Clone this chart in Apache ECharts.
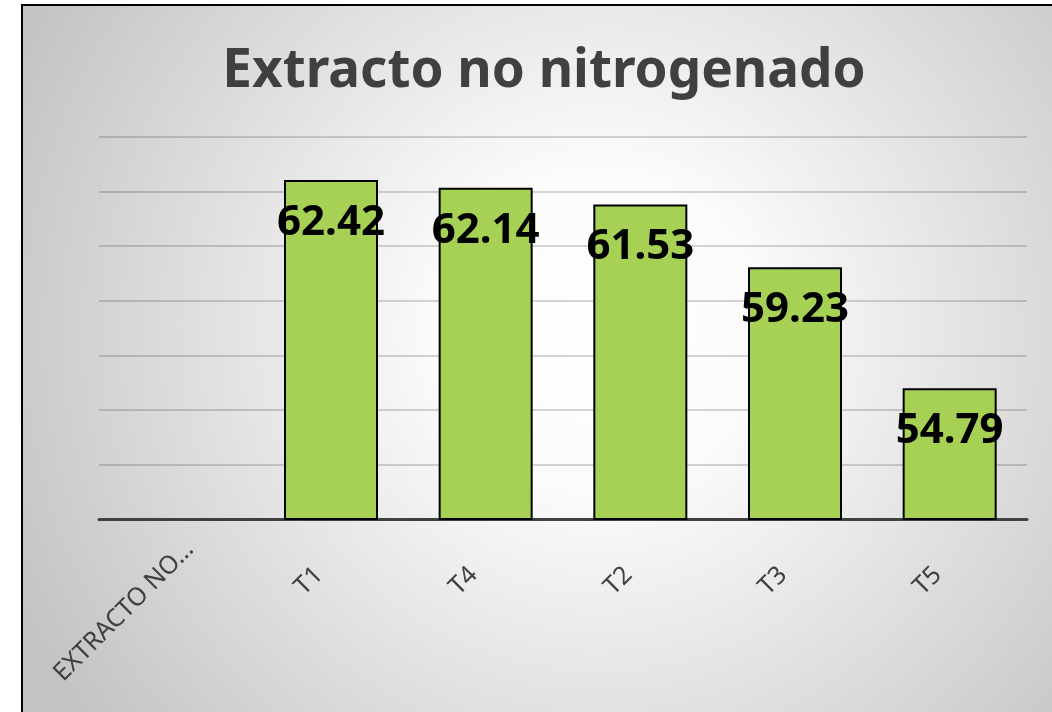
<!DOCTYPE html>
<html>
<head>
<meta charset="utf-8">
<script src="https://cdn.jsdelivr.net/npm/echarts@6/dist/echarts.min.js"></script>
<style>
html,body{margin:0;padding:0;background:#fff;}
#chart{width:1052px;height:712px;}
</style>
</head>
<body>
<div id="chart"></div>
<script>
const titleText = 'Extracto no nitrogenado';
const categories = ['EXTRACTO NO…', 'T1', 'T4', 'T2', 'T3', 'T5'];
const values = [null, 62.42, 62.14, 61.53, 59.23, 54.79];
const yMin = 50, yMax = 64, yStep = 2;

const categoryItems = categories.map((c, i) =>
  i === 0 ? {value: c, textStyle: {padding: [0, -19, 0, 0]}} : {value: c}
);

const chart = echarts.init(document.getElementById('chart'));
chart.setOption({
  animation: false,
  backgroundColor: '#ffffff',
  graphic: [{
    type: 'rect',
    z: -100,
    silent: true,
    shape: {x: 22, y: 5, width: 1060, height: 740},
    style: {
      fill: {
        type: 'radial', x: 600, y: 330, r: 640, global: true,
        colorStops: [{offset: 0, color: '#ffffff'}, {offset: 0.25, color: '#fbfbfb'}, {offset: 1, color: '#c4c4c4'}]
      },
      stroke: '#000000',
      lineWidth: 2
    }
  }],
  title: {
    text: titleText,
    left: 539,
    textAlign: 'center',
    top: 40,
    textStyle: {fontFamily: 'Noto Sans', fontWeight: 'bold', fontSize: 53, color: '#404040'}
  },
  grid: {left: 99, right: 25, top: 137, bottom: 193, containLabel: false, outerBoundsMode: 'none'},
  xAxis: {
    type: 'category',
    data: categoryItems,
    axisLine: {lineStyle: {color: '#404040', width: 3}},
    axisTick: {show: false},
    axisLabel: {rotate: 45, margin: 40, interval: 0, padding: [0, 17, 0, 0], fontFamily: 'Noto Sans', fontSize: 25, color: '#404040'}
  },
  yAxis: {
    type: 'value',
    min: yMin, max: yMax, interval: yStep,
    axisLabel: {show: false},
    axisLine: {show: false},
    axisTick: {show: false},
    splitLine: {lineStyle: {color: 'rgba(0,0,0,0.16)', width: 2}}
  },
  series: [{
    type: 'bar',
    data: values,
    barWidth: 94,
    itemStyle: {color: '#a6d155', borderColor: '#000000', borderWidth: 2},
    label: {
      show: true,
      position: ['50%', 43],
      align: 'center',
      verticalAlign: 'middle',
      fontFamily: 'Noto Sans',
      fontWeight: 'bold',
      fontSize: 42,
      color: '#000000',
      formatter: p => p.value.toFixed(2)
    }
  }]
});
</script>
</body>
</html>
